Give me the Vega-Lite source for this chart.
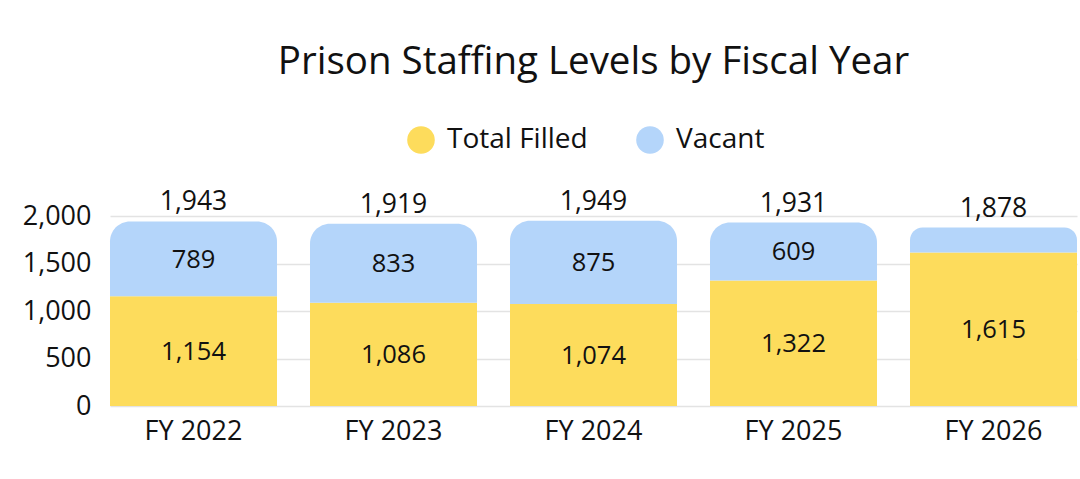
{
  "$schema": "https://vega.github.io/schema/vega-lite/v6.json",
  "width": 967,
  "height": 190,
  "autosize": {"type": "none"},
  "padding": {"left": 110, "top": 216, "right": 3, "bottom": 73},
  "background": "white",
  "title": {
    "text": "Prison Staffing Levels by Fiscal Year",
    "fontSize": 38.5,
    "font": "Open Sans",
    "fontWeight": "normal",
    "color": "#111111",
    "anchor": "middle",
    "offset": 44
  },
  "config": {
    "font": "Open Sans",
    "view": {"stroke": null}
  },
  "data": {
    "values": [
      {"year": "FY 2022", "filled": 1154, "vacant": 789, "total": 1943},
      {"year": "FY 2023", "filled": 1086, "vacant": 833, "total": 1919},
      {"year": "FY 2024", "filled": 1074, "vacant": 875, "total": 1949},
      {"year": "FY 2025", "filled": 1322, "vacant": 609, "total": 1931},
      {"year": "FY 2026", "filled": 1615, "vacant": 263, "total": 1878}
    ]
  },
  "encoding": {
    "x": {
      "field": "year",
      "type": "nominal",
      "title": null,
      "scale": {"paddingInner": 0.165, "paddingOuter": 0},
      "axis": {
        "labelAngle": 0,
        "labelFontSize": 27,
        "labelColor": "#111111",
        "labelPadding": 12,
        "ticks": false,
        "domain": false
      }
    }
  },
  "layer": [
    {
      "mark": {"type": "bar"},
      "encoding": {
        "y": {
          "field": "filled",
          "type": "quantitative",
          "title": null,
          "scale": {"domain": [0, 2000]},
          "axis": {
            "values": [0, 500, 1000, 1500, 2000],
            "format": ",d",
            "labelFontSize": 27,
            "labelColor": "#111111",
            "labelPadding": 19,
            "ticks": false,
            "domain": false,
            "gridColor": "#e3e3e3",
            "gridWidth": 1.5
          }
        },
        "color": {
          "datum": "Total Filled",
          "type": "nominal",
          "scale": {"domain": ["Total Filled", "Vacant"], "range": ["#FDDC5C", "#B4D5FA"]},
          "legend": {
            "title": null,
            "orient": "none",
            "legendX": 297,
            "legendY": -90,
            "direction": "horizontal",
            "symbolType": "circle",
            "symbolSize": 760,
            "symbolStrokeWidth": 0,
            "labelFontSize": 28,
            "labelColor": "#111111",
            "labelOffset": 12,
            "columnPadding": 48
          }
        }
      }
    },
    {
      "mark": {"type": "bar", "cornerRadiusTopLeft": 20, "cornerRadiusTopRight": 20},
      "encoding": {
        "y": {"field": "filled", "type": "quantitative"},
        "y2": {"field": "total"},
        "color": {"datum": "Vacant", "type": "nominal"}
      }
    },
    {
      "transform": [
        {"fold": ["filled", "vacant"], "as": ["part", "value"]},
        {"filter": "datum.part == 'filled' || datum.value >= 300"}
      ],
      "mark": {"type": "text", "fontSize": 25.5, "color": "#111111", "baseline": "middle", "dy": 1},
      "encoding": {
        "y": {"field": "value", "type": "quantitative", "stack": "zero", "bandPosition": 0.5},
        "order": {"field": "part"},
        "text": {"field": "value", "type": "quantitative", "format": ","}
      }
    },
    {
      "mark": {"type": "text", "fontSize": 26.5, "color": "#111111", "baseline": "middle", "dy": -19},
      "encoding": {
        "y": {"field": "total", "type": "quantitative"},
        "text": {"field": "total", "type": "quantitative", "format": ","}
      }
    }
  ]
}
